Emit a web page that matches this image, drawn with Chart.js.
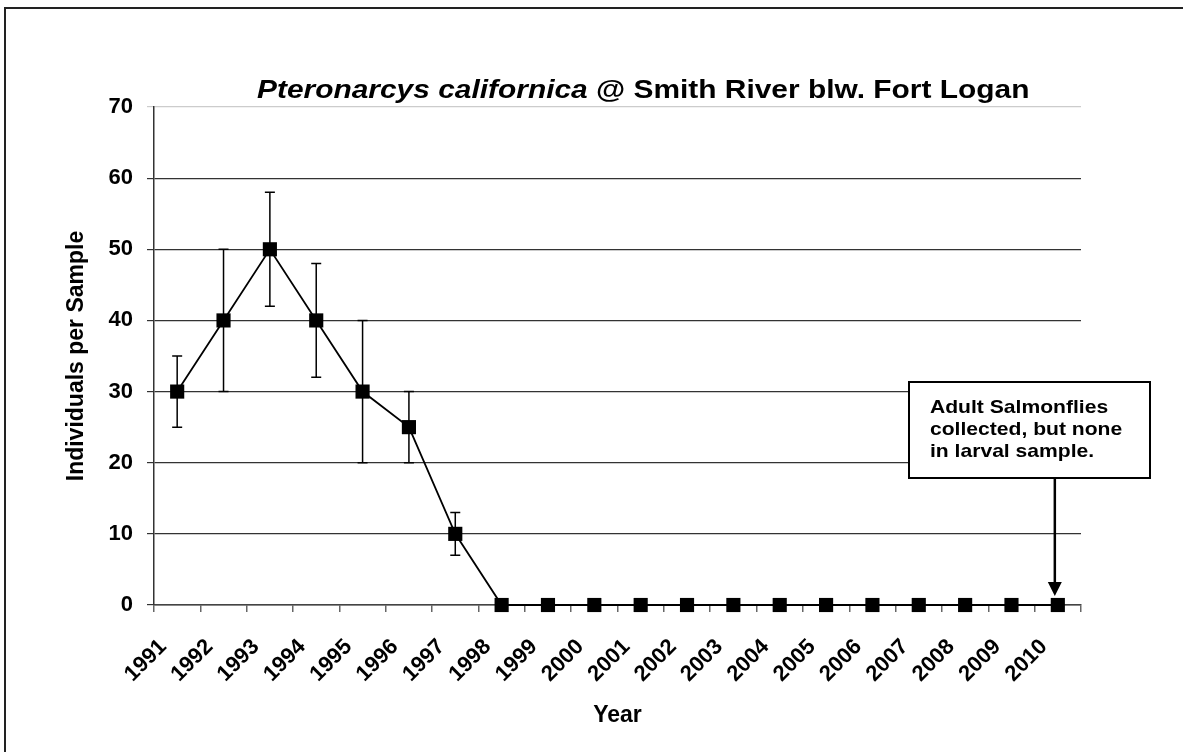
<!DOCTYPE html>
<html>
<head>
<meta charset="utf-8">
<script src="https://cdn.jsdelivr.net/npm/chart.js@4.4.1/dist/chart.umd.min.js"></script>
<style>
html, body { margin: 0; padding: 0; background: #fff; }
#wrap { width: 1183px; height: 752px; }
</style>
</head>
<body>
<div id="wrap"><canvas id="chart" width="1183" height="752"></canvas></div>
<script>

/* data */

const years = ["1991","1992","1993","1994","1995","1996","1997","1998","1999","2000",
"2001","2002","2003","2004","2005","2006","2007","2008","2009","2010"];

const counts = [30, 40, 50, 40, 30, 25, 10, 0, 0, 0, 0, 0, 0, 0, 0, 0, 0, 0, 0, 0];

const errLow = [25, 30, 42, 32, 20, 20, 7, null, null, null, null, null, null, null, null, null, null, null, null, null];
const errHigh = [35, 50, 58, 48, 40, 30, 13, null, null, null, null, null, null, null, null, null, null, null, null, null];

const yTicks = [0, 10, 20, 30, 40, 50, 60, 70];

const titleItalic = "Pteronarcys californica";
const titleRest = " @ Smith River blw. Fort Logan";
const noteLines = ["Adult Salmonflies", "collected, but none", "in larval sample."];

const FONT = "'Liberation Sans', Arial, sans-serif";

/* frame + title */

const framePlugin = {
id: "frame",
beforeDraw(chart){
const ctx = chart.ctx;
ctx.save();
ctx.fillStyle = "#fff";
ctx.fillRect(0, 0, chart.width, chart.height);
ctx.strokeStyle = "#222";
ctx.lineWidth = 2;
ctx.strokeRect(5, 8, 1200, 800);
ctx.restore();
},
afterDraw(chart){
const ctx = chart.ctx;
ctx.save();
ctx.fillStyle = "#000";
ctx.textBaseline = "alphabetic";
ctx.translate(257, 98);
ctx.scale(1.15, 1);
ctx.font = "italic bold 26px " + FONT;
let w1 = ctx.measureText(titleItalic).width;
ctx.fillText(titleItalic, 0, 0);
ctx.font = "bold 26px " + FONT;
ctx.fillText(titleRest, w1, 0);
ctx.restore();
}
};

/* error bars */

const errorBars = {
id: "errorBars",
afterDatasetsDraw(chart){
const ctx = chart.ctx;
const xs = chart.scales.x;
const ys = chart.scales.y;
ctx.save();
ctx.strokeStyle = "#000";
ctx.lineWidth = 1.5;
errLow.forEach((lo, i) => {
if(lo === null) return;
let x = xs.getPixelForValue(i);
let yl = ys.getPixelForValue(lo);
let yh = ys.getPixelForValue(errHigh[i]);
ctx.beginPath();
ctx.moveTo(x, yl); ctx.lineTo(x, yh);
ctx.moveTo(x - 5, yl); ctx.lineTo(x + 5, yl);
ctx.moveTo(x - 5, yh); ctx.lineTo(x + 5, yh);
ctx.stroke();
});
ctx.restore();
}
};

/* note box + arrow */

const notePlugin = {
id: "note",
afterDraw(chart){
const ctx = chart.ctx;
const xs = chart.scales.x;
const ys = chart.scales.y;
let last = years.length - 1;
let ax = xs.getPixelForValue(last) - 3;
let tipY = ys.getPixelForValue(counts[last]) - 9;
let bx = 909, by = 382, bw = 241, bh = 96;
ctx.save();
ctx.fillStyle = "#fff";
ctx.fillRect(bx, by, bw, bh);
ctx.strokeStyle = "#000";
ctx.lineWidth = 2;
ctx.strokeRect(bx, by, bw, bh);
ctx.lineWidth = 2.5;
ctx.beginPath();
ctx.moveTo(ax, by + bh);
ctx.lineTo(ax, tipY - 12);
ctx.stroke();
ctx.fillStyle = "#000";
ctx.beginPath();
ctx.moveTo(ax - 7, tipY - 14);
ctx.lineTo(ax + 7, tipY - 14);
ctx.lineTo(ax, tipY);
ctx.closePath();
ctx.fill();
ctx.font = "bold 19px " + FONT;
ctx.textBaseline = "alphabetic";
noteLines.forEach((t, i) => {
ctx.save();
ctx.translate(930, 413 + i * 22);
ctx.scale(1.11, 1);
ctx.fillText(t, 0, 0);
ctx.restore();
});
ctx.restore();
}
};

new Chart(document.getElementById("chart"), {
type: "line",
data: {
labels: years,
datasets: [{
label: "Individuals per Sample",
data: counts,
borderColor: "#000",
borderWidth: 1.8,
pointStyle: "rect",
pointRadius: 10,
pointBackgroundColor: "#000",
pointBorderColor: "#000",
pointBorderWidth: 0,
tension: 0,
fill: false,
clip: false
}]
},
options: {
responsive: false,
animation: false,
events: [],
layout: { padding: { top: 107, right: 102, left: 0, bottom: 0 } },
plugins: {
legend: { display: false },
tooltip: { enabled: false },
title: { display: false }
},
scales: {
x: {
offset: true,
grid: { offset: true, drawOnChartArea: false, tickLength: 7, color: "#666", lineWidth: 1.5 },
border: { color: "#444", width: 1.5 },
ticks: {
color: "#000",
font: { family: FONT, size: 22, weight: "bold" },
maxRotation: 45, minRotation: 45,
autoSkip: false,
labelOffset: -14,
padding: 22
},
title: {
display: true, text: "Year", color: "#000",
font: { family: FONT, size: 23, weight: "bold" },
padding: { top: 0, bottom: 23 }
},
afterFit(scale){ scale.height = 752 - 605; }
},
y: {
min: 0, max: 70,
afterBuildTicks(scale){ scale.ticks = yTicks.map(v => ({ value: v })); },
grid: {
color: ctx => ctx.tick && ctx.tick.value === 70 ? "#ccc" : "#333",
lineWidth: 1.2,
tickLength: 7
},
border: { color: "#333", width: 1.5 },
ticks: {
color: "#000",
font: { family: FONT, size: 22, weight: "bold" },
padding: 14
},
title: {
display: true, text: "Individuals per Sample", color: "#000",
font: { family: FONT, size: 23, weight: "bold" },
padding: { top: 63, bottom: 0 }
},
afterFit(scale){ scale.width = 154; }
}
}
},
plugins: [framePlugin, errorBars, notePlugin]
});
</script>
</body>
</html>
